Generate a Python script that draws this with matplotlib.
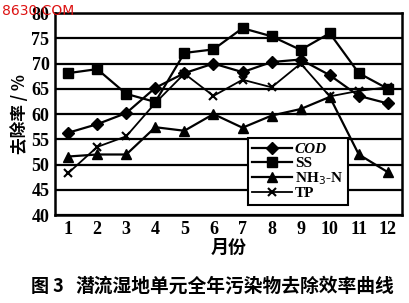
import matplotlib

matplotlib.use("Agg")
import matplotlib.pyplot as plt

plt.rcParams["font.family"] = ["Liberation Serif", "Noto Sans CJK SC"]

months = list(range(1, 13))
cod = [56.3, 58.0, 60.2, 65.2, 68.1, 70.0, 68.3, 70.3, 70.8, 67.7, 63.6, 62.1]
ss = [68.1, 68.9, 64.0, 62.4, 72.1, 72.8, 77.0, 75.4, 72.7, 76.0, 68.1, 65.0]
nh3n = [51.6, 52.0, 52.0, 57.4, 56.7, 60.0, 57.3, 59.7, 61.0, 63.4, 52.0, 48.5]
tp = [48.3, 53.5, 55.6, 62.2, 68.0, 63.6, 66.8, 65.3, 70.0, 63.5, 64.6, 65.3]
yticks = [40, 45, 50, 55, 60, 65, 70, 75, 80]

fig = plt.figure(figsize=(4.09, 3.03), dpi=100)
ax = fig.add_axes([0.1345, 0.29, 0.848, 0.667])

ax.plot(months, cod, marker="D", color="black", lw=1.6, ms=6.5, label="COD")
ax.plot(months, ss, marker="s", color="black", lw=1.6, ms=7, label="SS")
ax.plot(months, nh3n, marker="^", color="black", lw=1.6, ms=7.5, label="NH$_3$-N")
ax.plot(months, tp, marker="x", color="black", lw=1.3, ms=6, mew=1.5, label="TP")

ax.set_xlim(0.55, 12.48)
ax.set_ylim(40, 80)
ax.set_yticks(yticks)
ax.set_xticks(months)
ax.yaxis.grid(True, color="black", lw=1.6)
ax.set_axisbelow(True)
for sp in ax.spines.values():
    sp.set_linewidth(1.8)
ax.tick_params(length=0, labelsize=13, pad=4)
for lab in ax.get_xticklabels() + ax.get_yticklabels():
    lab.set_fontweight("bold")

ax.set_xlabel("月份", fontsize=13, fontweight="bold", family="Noto Sans CJK SC", labelpad=0)
ax.set_ylabel("去除率 / %", fontsize=12, fontweight="bold", family="Noto Sans CJK SC", labelpad=2)

leg = ax.legend(loc="lower left", bbox_to_anchor=(0.555, 0.05), fontsize=11, frameon=True,
                fancybox=False, handlelength=2.6, handletextpad=0.2, borderpad=0.3,
                labelspacing=0.0, borderaxespad=0)
leg.get_frame().set_edgecolor("black")
leg.get_frame().set_linewidth(1.5)
leg.get_frame().set_alpha(1)
for i, t in enumerate(leg.get_texts()):
    t.set_fontweight("bold")
    if i == 0:
        t.set_fontstyle("italic")

fig.text(0.115, 0.055, "图 3", ha="center", va="center",
         fontsize=13, fontweight="bold", family="Noto Sans CJK SC")
fig.text(0.575, 0.055, "潜流湿地单元全年污染物去除效率曲线", ha="center", va="center",
         fontsize=13.5, fontweight="bold", family="Noto Sans CJK SC")
fig.text(0.005, 0.965, "8630.COM", color="#dd1111", fontsize=10, ha="left", va="center",
         family="DejaVu Sans")

fig.savefig("out.png", dpi=100)
